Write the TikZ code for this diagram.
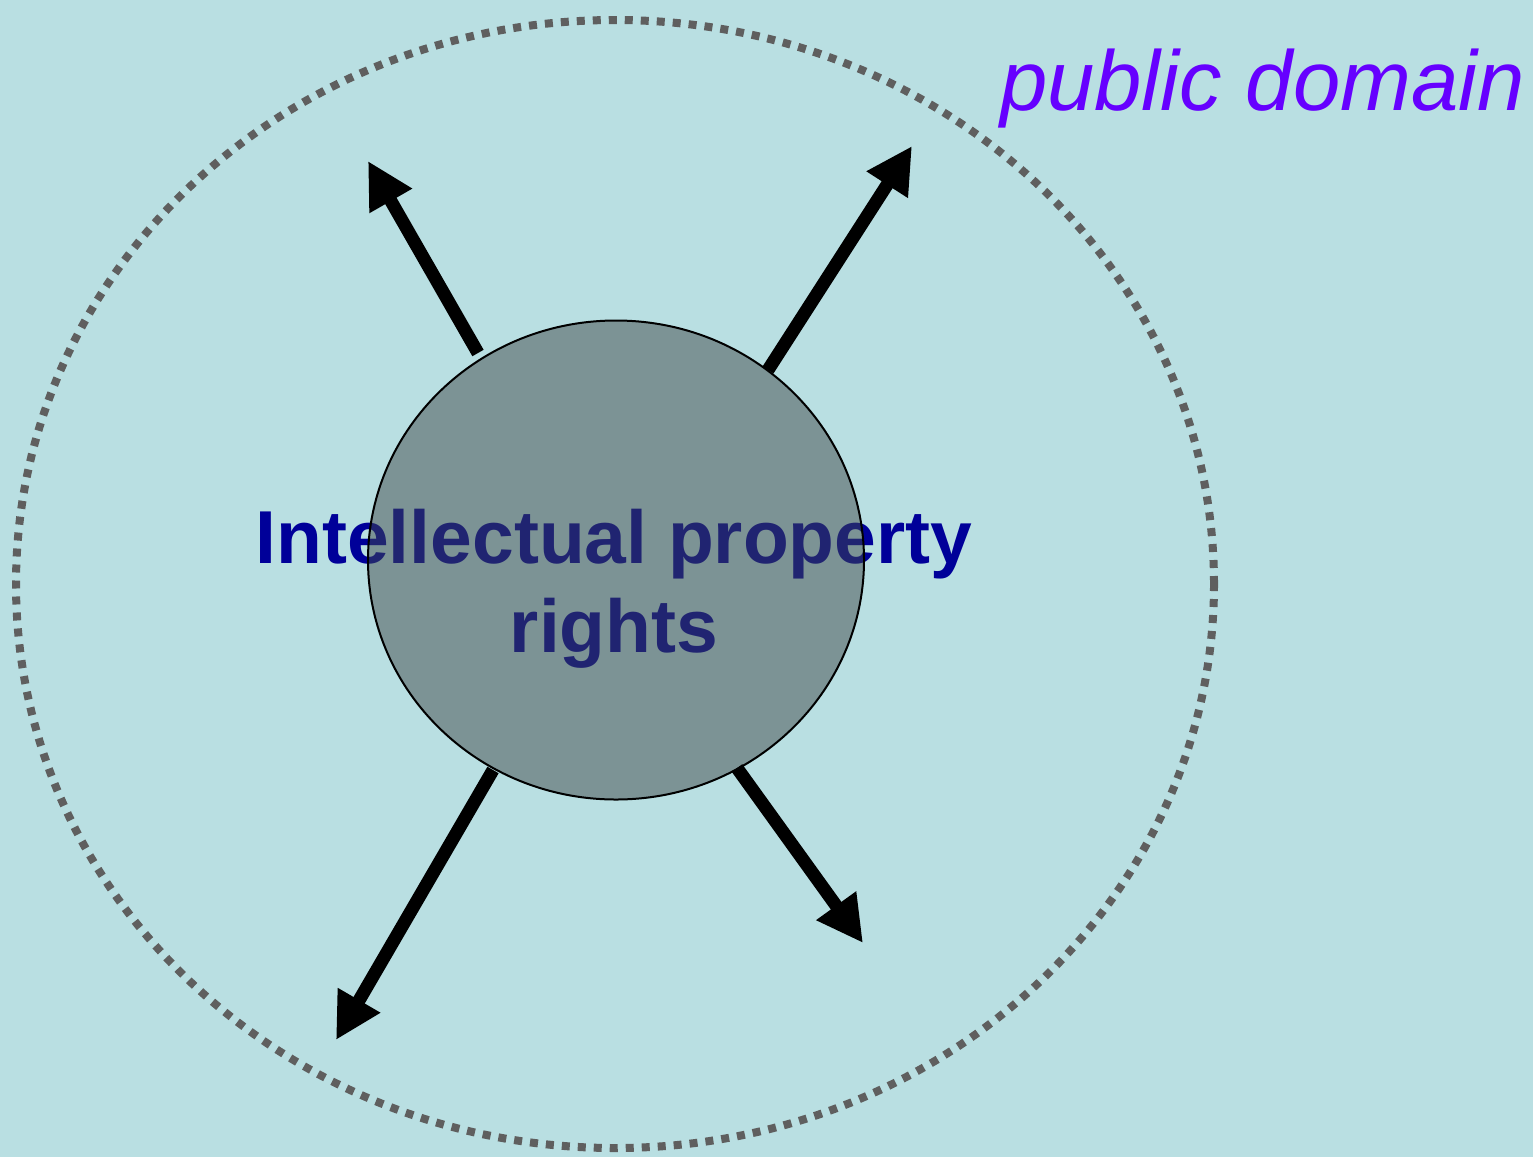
\documentclass[tikz,border=0pt]{standalone}
\usepackage{fontspec}
\setmainfont{Liberation Sans}
\usetikzlibrary{arrows.meta,shapes.geometric}
\definecolor{bgc}{RGB}{185,223,226}
\definecolor{dotc}{RGB}{95,95,95}
\definecolor{ipfill}{RGB}{65,73,74}
\definecolor{iptext}{RGB}{0,0,153}
\definecolor{pdtext}{RGB}{102,0,255}
\tikzset{
  bigarrow/.style={line width=13pt,-{Triangle[length=46pt,width=46pt]},line cap=butt},
  pdring/.style={ellipse,draw=dotc,line width=8pt,dash pattern=on 8pt off 8pt,minimum width=1198pt,minimum height=1128pt,inner sep=0pt,outer sep=0pt},
  iparea/.style={ellipse,draw=black,line width=2pt,fill=ipfill,fill opacity=0.5,minimum width=496pt,minimum height=479pt,inner sep=0pt},
}
\begin{document}
\begin{tikzpicture}[x=1pt,y=-1pt]
\fill[bgc] (0,0) rectangle (1533,1157);
\useasboundingbox (0,0) rectangle (1533,1157);
\node[pdring] (pd) at (615,584) {};
\node[anchor=base west,text=pdtext,font=\itshape\fontsize{85}{90}\selectfont,inner sep=0pt] (pdl) at (1000,110) {public domain};
\node[text=iptext,font=\bfseries\fontsize{75}{89}\selectfont,align=center,inner sep=0pt,anchor=base] (ipt) at (614,652) {Intellectual property\\rights};
\node[iparea] (ip) at (616,560) {};
\coordinate (a1s) at (478,353);
\coordinate (a1e) at (368,161);
\coordinate (a2s) at (768,370);
\coordinate (a2e) at (912,146);
\coordinate (a3s) at (493,770);
\coordinate (a3e) at (336,1040);
\coordinate (a4s) at (737,768);
\coordinate (a4e) at (863,943);
\draw[bigarrow] (a1s) -- (a1e);
\draw[bigarrow] (a2s) -- (a2e);
\draw[bigarrow] (a3s) -- (a3e);
\draw[bigarrow] (a4s) -- (a4e);
\end{tikzpicture}
\end{document}
